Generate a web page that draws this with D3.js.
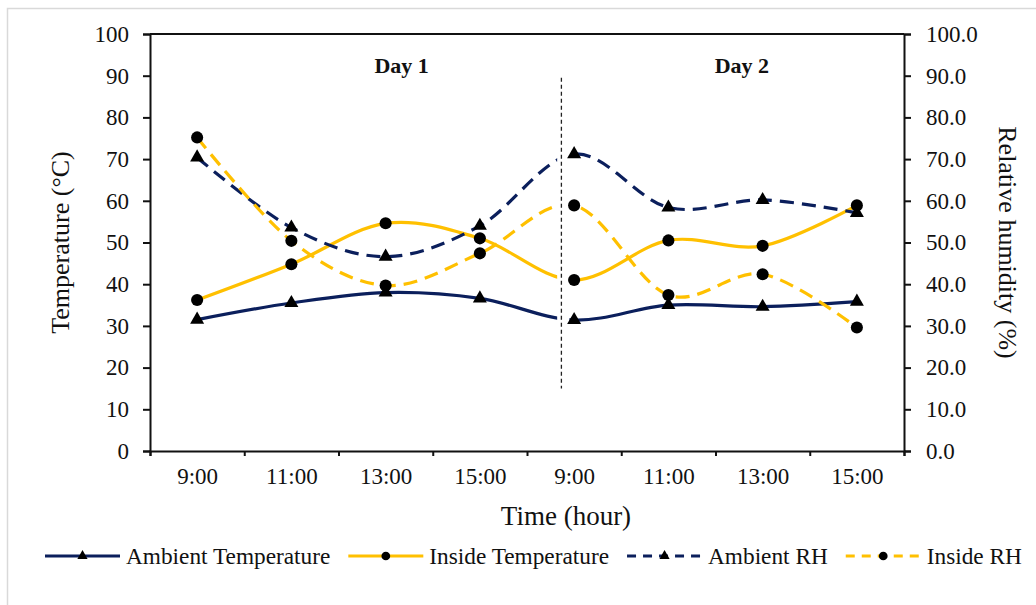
<!DOCTYPE html>
<html>
<head>
<meta charset="utf-8">
<script src="https://cdn.jsdelivr.net/npm/d3@7"></script>
<style>
  body { margin: 0; background: #fff; }
  svg text { font-family: "Liberation Serif", "Times New Roman", serif; fill: #111; }
</style>
</head>
<body>
<svg width="1036" height="605"></svg>
<script>
const times = ['9:00', '11:00', '13:00', '15:00', '9:00', '11:00', '13:00', '15:00']
const ambientTemp = [31.5, 35.5, 38.0, 36.6, 31.4, 35.0, 34.6, 35.8]
const insideTemp = [36.2, 44.8, 54.6, 51.0, 41.0, 50.5, 49.2, 58.9]
const ambientRH = [70.4, 53.6, 46.6, 54.0, 71.2, 58.4, 60.2, 57.1]
const insideRH = [75.2, 50.4, 39.7, 47.4, 58.9, 37.4, 42.4, 29.6]
const tempTicks = d3.range(0, 101, 10)
const rhTicks = d3.range(0, 101, 10)
const days = ['Day 1', 'Day 2']

const svg = d3.select('svg')
const width = +svg.attr('width')
const height = +svg.attr('height')

const margin = {top: 34, right: 132, bottom: 154, left: 150}
const innerWidth = width - margin.left - margin.right
const innerHeight = height - margin.top - margin.bottom

const navy = '#0b1f5c'
const gold = '#ffc000'

// outer frame of the chart
svg.append('rect')
	.attr('x', 7.5).attr('y', 8.5)
	.attr('width', width + 10).attr('height', height + 10)
	.attr('fill', 'none')
	.attr('stroke', '#d9d9d9')
	.attr('stroke-width', 1.5)

const g = svg.append('g')
	.attr('transform', `translate(${margin.left}, ${margin.top})`)

const xScale = d3.scaleLinear()
	.domain([-0.5, times.length - 0.5])
	.range([0, innerWidth])

const yLeft = d3.scaleLinear().domain([0, 100]).range([innerHeight, 0])
const yRight = d3.scaleLinear().domain([0, 100]).range([innerHeight, 0])

// plot border top
g.append('line')
	.attr('x1', 0).attr('x2', innerWidth)
	.attr('y1', 0).attr('y2', 0)
	.attr('stroke', '#111').attr('stroke-width', 2)

const leftAxis = g.append('g')
	.call(d3.axisLeft(yLeft).tickValues(tempTicks).tickSize(7).tickPadding(14))
leftAxis.selectAll('text').style('font-size', '23px')

const rightAxis = g.append('g')
	.attr('transform', `translate(${innerWidth}, 0)`)
	.call(d3.axisRight(yRight).tickValues(rhTicks).tickSize(7).tickPadding(15).tickFormat(d3.format('.1f')))
rightAxis.selectAll('text').style('font-size', '23px')

const bottomTicks = g.append('g')
	.attr('transform', `translate(0, ${innerHeight})`)
	.call(d3.axisBottom(xScale).tickValues(d3.range(-0.5, times.length, 1)).tickFormat('').tickSize(5))

const bottomLabels = g.append('g')
	.attr('transform', `translate(0, ${innerHeight})`)
	.call(d3.axisBottom(xScale).tickValues(d3.range(times.length)).tickFormat(i => times[i]).tickSize(0).tickPadding(17))
bottomLabels.select('.domain').remove()
bottomLabels.selectAll('text').style('font-size', '23px')

g.selectAll('.domain').attr('stroke', '#111').attr('stroke-width', 2)
g.selectAll('.tick line').attr('stroke', '#111').attr('stroke-width', 2)

// series
const series = [
	{name: 'Ambient Temperature', values: ambientTemp, scale: yLeft, color: navy, dash: null, shape: d3.symbolTriangle},
	{name: 'Inside Temperature', values: insideTemp, scale: yLeft, color: gold, dash: null, shape: d3.symbolCircle},
	{name: 'Ambient RH', values: ambientRH, scale: yRight, color: navy, dash: '14,8', shape: d3.symbolTriangle},
	{name: 'Inside RH', values: insideRH, scale: yRight, color: gold, dash: '14,8', shape: d3.symbolCircle}
]

const lineGroup = g.append('g')
series.forEach(s => {
	const line = d3.line()
		.x((d, i) => xScale(i))
		.y(d => s.scale(d))
		.curve(d3.curveCatmullRom.alpha(0))
	lineGroup.append('path')
		.datum(s.values)
		.attr('d', line)
		.attr('fill', 'none')
		.attr('stroke', s.color)
		.attr('stroke-width', 3.2)
		.attr('stroke-dasharray', s.dash)
})

// gap at the day break + dashed divider
g.append('rect')
	.attr('x', xScale(3.82))
	.attr('width', xScale(3.95) - xScale(3.82))
	.attr('y', yLeft(92))
	.attr('height', yLeft(12) - yLeft(92))
	.attr('fill', '#fff')

g.append('line')
	.attr('x1', xScale(3.865)).attr('x2', xScale(3.865))
	.attr('y1', yLeft(89.5)).attr('y2', yLeft(15))
	.attr('stroke', '#222')
	.attr('stroke-width', 1.3)
	.attr('stroke-dasharray', '4,3')

const markerGroup = g.append('g')
series.forEach(s => {
	markerGroup.selectAll(null)
		.data(s.values)
		.enter().append('path')
		.attr('d', d3.symbol().type(s.shape).size(s.shape === d3.symbolCircle ? 115 : 85))
		.attr('transform', (d, i) => `translate(${xScale(i)}, ${s.scale(d)})`)
		.attr('fill', '#000')
})

// day labels
g.selectAll('.day')
	.data(days)
	.enter().append('text')
	.attr('class', 'day')
	.attr('x', (d, i) => xScale(i === 0 ? 2.17 : 5.78))
	.attr('y', 39)
	.attr('text-anchor', 'middle')
	.style('font-size', '22px')
	.style('font-weight', 'bold')
	.text(d => d)

// axis titles
svg.append('text')
	.attr('transform', `translate(60, ${margin.top + innerHeight / 2}) rotate(-90)`)
	.attr('text-anchor', 'middle')
	.attr('dy', '0.35em')
	.style('font-size', '26px')
	.text('Temperature (°C)')

svg.append('text')
	.attr('transform', `translate(1008, ${margin.top + innerHeight / 2}) rotate(90)`)
	.attr('text-anchor', 'middle')
	.attr('dy', '0.35em')
	.style('font-size', '26px')
	.text('Relative humidity (%)')

svg.append('text')
	.attr('x', 566)
	.attr('y', 525)
	.attr('text-anchor', 'middle')
	.style('font-size', '27px')
	.text('Time (hour)')

// legend
const legend = svg.append('g').attr('transform', 'translate(45, 556)')
let lx = 0
series.forEach(s => {
	const item = legend.append('g').attr('transform', `translate(${lx}, 0)`)
	item.append('line')
		.attr('x1', 0).attr('x2', 75)
		.attr('stroke', s.color)
		.attr('stroke-width', 3.2)
		.attr('stroke-dasharray', s.dash ? '9,7' : null)
	item.append('path')
		.attr('d', d3.symbol().type(s.shape).size(s.shape === d3.symbolCircle ? 60 : 45))
		.attr('transform', 'translate(37.5, 0)')
		.attr('fill', '#000')
	const t = item.append('text')
		.attr('x', 81)
		.attr('dy', '0.35em')
		.style('font-size', '23.3px')
		.text(s.name)
	lx += 81 + t.node().getComputedTextLength() + 18
})
</script>
</body>
</html>
